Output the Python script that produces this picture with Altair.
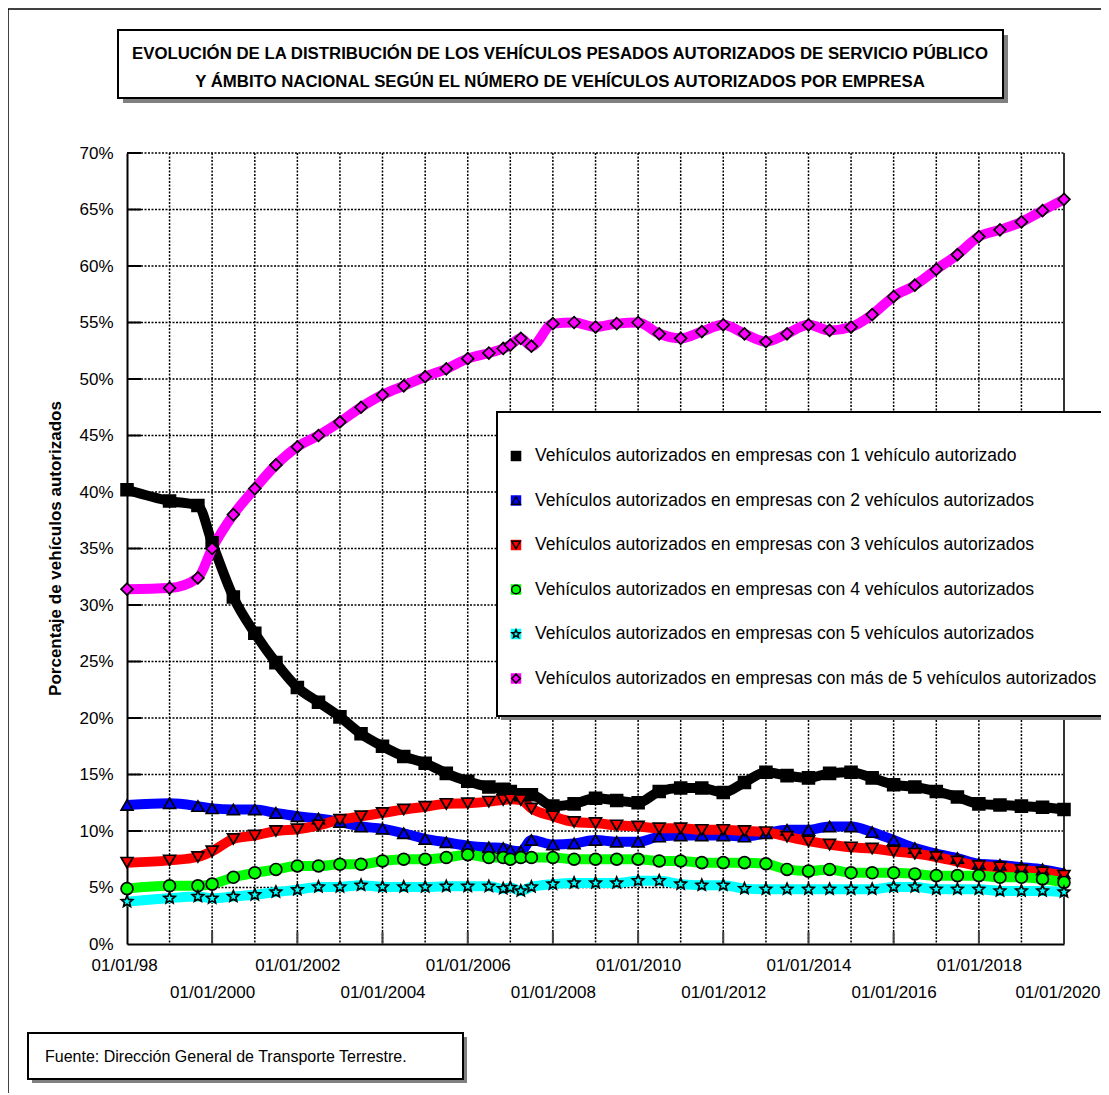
import altair as alt
import pandas as pd

FONT = "Liberation Sans"

# ---------------- data ----------------
FECHAS = [
    "1998-01-01", "1999-01-01", "1999-09-01", "2000-01-01", "2000-07-01",
    "2001-01-01", "2001-07-01", "2002-01-01", "2002-07-01", "2003-01-01",
    "2003-07-01", "2004-01-01", "2004-07-01", "2005-01-01", "2005-07-01",
    "2006-01-01", "2006-07-01", "2006-11-01", "2007-01-01", "2007-04-01",
    "2007-07-01", "2008-01-01", "2008-07-01", "2009-01-01", "2009-07-01",
    "2010-01-01", "2010-07-01", "2011-01-01", "2011-07-01", "2012-01-01",
    "2012-07-01", "2013-01-01", "2013-07-01", "2014-01-01", "2014-07-01",
    "2015-01-01", "2015-07-01", "2016-01-01", "2016-07-01", "2017-01-01",
    "2017-07-01", "2018-01-01", "2018-07-01", "2019-01-01", "2019-07-01",
    "2020-01-01",
]

SERIES = [
    "Vehículos autorizados en empresas con 1 vehículo autorizado",
    "Vehículos autorizados en empresas con 2 vehículos autorizados",
    "Vehículos autorizados en empresas con 3 vehículos autorizados",
    "Vehículos autorizados en empresas con 4 vehículos autorizados",
    "Vehículos autorizados en empresas con 5 vehículos autorizados",
    "Vehículos autorizados en empresas con más de 5 vehículos autorizados",
]

EMP_1 = [40.2, 39.2, 38.8, 35.5, 30.7, 27.5, 24.9, 22.7, 21.4, 20.1,
         18.6, 17.5, 16.6, 16.0, 15.1, 14.4, 13.9, 13.7, 13.5, 13.2,
         13.2, 12.2, 12.4, 12.9, 12.7, 12.5, 13.5, 13.8, 13.8, 13.4,
         14.3, 15.2, 14.9, 14.7, 15.1, 15.2, 14.7, 14.1, 13.9, 13.5,
         13.0, 12.4, 12.3, 12.2, 12.1, 11.9]
EMP_2 = [12.3, 12.45, 12.2, 12.0, 11.9, 11.9, 11.6, 11.3, 11.1, 10.8,
         10.4, 10.2, 9.8, 9.3, 9.0, 8.7, 8.55, 8.5, 8.3, 8.2,
         9.2, 8.8, 8.9, 9.2, 9.05, 9.05, 9.5, 9.6, 9.6, 9.6,
         9.5, 9.8, 10.1, 10.1, 10.4, 10.4, 9.9, 9.2, 8.5, 8.0,
         7.6, 7.1, 7.0, 6.8, 6.6, 6.25]
EMP_3 = [7.2, 7.4, 7.7, 8.2, 9.3, 9.6, 10.0, 10.15, 10.5, 11.0,
         11.3, 11.6, 11.9, 12.15, 12.4, 12.45, 12.6, 12.75, 12.8, 12.75,
         12.0, 11.3, 10.8, 10.7, 10.5, 10.4, 10.25, 10.25, 10.1, 10.1,
         10.0, 9.9, 9.5, 9.1, 8.8, 8.55, 8.45, 8.2, 8.0, 7.7,
         7.3, 6.9, 6.8, 6.55, 6.35, 6.05]
EMP_4 = [4.9, 5.15, 5.15, 5.3, 5.9, 6.3, 6.6, 6.9, 6.9, 7.05,
         7.05, 7.35, 7.5, 7.5, 7.65, 7.9, 7.65, 7.65, 7.5, 7.65,
         7.65, 7.65, 7.5, 7.5, 7.5, 7.5, 7.35, 7.35, 7.2, 7.2,
         7.2, 7.1, 6.6, 6.45, 6.6, 6.3, 6.3, 6.3, 6.2, 6.05,
         6.05, 6.05, 5.9, 5.9, 5.75, 5.45]
EMP_5 = [3.75, 4.05, 4.2, 4.05, 4.2, 4.35, 4.6, 4.8, 5.05, 5.05,
         5.2, 5.05, 5.05, 5.05, 5.1, 5.1, 5.1, 4.9, 5.0, 4.7,
         5.05, 5.3, 5.4, 5.4, 5.4, 5.6, 5.6, 5.3, 5.2, 5.2,
         4.9, 4.85, 4.85, 4.85, 4.85, 4.85, 4.85, 5.05, 5.05, 4.85,
         4.85, 4.85, 4.7, 4.7, 4.7, 4.6]
EMP_MAS5 = [31.4, 31.5, 32.4, 35.0, 38.0, 40.3, 42.4, 44.0, 45.0, 46.2,
            47.5, 48.6, 49.4, 50.2, 50.9, 51.8, 52.3, 52.7, 53.0, 53.6,
            52.9, 54.9, 55.0, 54.6, 54.9, 55.0, 54.0, 53.6, 54.2, 54.8,
            54.0, 53.3, 54.0, 54.8, 54.3, 54.6, 55.7, 57.3, 58.3, 59.7,
            61.0, 62.6, 63.2, 63.9, 64.9, 65.9]

COLORES = ["#000000", "#0000FF", "#FF0000", "#00FF00", "#00FFFF", "#FF00FF"]

GRID_FECHAS = [f"{a}-01-01" for a in range(1999, 2020)]
TICK_FECHAS = [f"{a}-01-01" for a in range(2000, 2020, 2)]
ETIQUETA_ANIOS = list(range(1998, 2021, 2))
Y_NIVELES = list(range(5, 75, 5))
Y_ETIQUETAS = list(range(0, 75, 5))

TITULO = [
    "EVOLUCIÓN DE LA DISTRIBUCIÓN DE LOS VEHÍCULOS PESADOS AUTORIZADOS DE SERVICIO PÚBLICO",
    "Y ÁMBITO NACIONAL SEGÚN EL NÚMERO DE VEHÍCULOS AUTORIZADOS POR EMPRESA",
]
Y_TITULO = "Porcentaje de vehículos autorizados"
FUENTE = "Fuente: Dirección General de Transporte Terrestre."

# ---------------- build tables ----------------
filas = []
for nombre, valores in zip(SERIES, [EMP_1, EMP_2, EMP_3, EMP_4, EMP_5, EMP_MAS5]):
    for f, v in zip(FECHAS, valores):
        filas.append({"fecha": f, "serie": nombre, "valor": v})
df = pd.DataFrame(filas)

grid_v = pd.DataFrame({"fecha": GRID_FECHAS})
tick_v = pd.DataFrame({"fecha": TICK_FECHAS})
grid_h = pd.DataFrame({"valor": Y_NIVELES})

W, H = 937, 791

STAR = ("M0,-1L0.265,-0.364L0.951,-0.309L0.428,0.139L0.588,0.809L0,0.45"
        "L-0.588,0.809L-0.428,0.139L-0.951,-0.309L-0.265,-0.364Z")
FORMAS = ["square", "triangle-up", "triangle-down", "circle", STAR, "diamond"]

x_scale = alt.Scale(
    type="utc",
    domain=[alt.DateTime(year=1998, month=1, date=1, utc=True),
            alt.DateTime(year=2020, month=1, date=1, utc=True)],
)
y_scale = alt.Scale(domain=[0, 70], nice=False)

x_axis = alt.Axis(
    values=[alt.DateTime(year=a, month=1, date=1, utc=True) for a in ETIQUETA_ANIOS],
    labelExpr=("utcyear(datum.value) == 1998 ? '01/01/98' : "
               "((utcyear(datum.value) - 1998) % 4 == 2 ? ['', '01/01/' + utcyear(datum.value)] "
               ": '01/01/' + utcyear(datum.value))"),
    labelLineHeight=27, labelFontSize=17, labelFont=FONT, labelColor="black",
    labelPadding=13, labelFlush=True, labelFlushOffset=36, labelOverlap=False,
    labelBaseline="top",
    ticks=False, tickSize=0, grid=False, domainColor="black", domainWidth=2,
    title=None,
)
y_axis = alt.Axis(
    values=Y_ETIQUETAS, labelExpr="datum.value + '%'",
    labelFontSize=17, labelFont=FONT, labelColor="black", labelPadding=14,
    ticks=False, tickSize=0, grid=False, domainColor="black", domainWidth=2,
    title=Y_TITULO, titleFont=FONT, titleFontSize=17, titleFontWeight="bold",
    titleColor="black", titleAngle=270, titleAlign="center", titleBaseline="middle",
    titleX=-72, titleY=395,
)

color_scale = alt.Scale(domain=SERIES, range=COLORES)
shape_scale = alt.Scale(domain=SERIES, range=FORMAS)

one = alt.Data(values=[{"k": 1}])

# gridlines and inward ticks
g_v = alt.Chart(grid_v).mark_rule(color="black", strokeWidth=1.5, strokeDash=[2, 1.5]).encode(
    x=alt.X("fecha:T", scale=x_scale, axis=x_axis),
    y=alt.value(0), y2=alt.value(H),
)
g_h = alt.Chart(grid_h).mark_rule(color="black", strokeWidth=1.5, strokeDash=[2, 1.5]).encode(
    y=alt.Y("valor:Q", scale=y_scale, axis=y_axis),
    x=alt.value(0), x2=alt.value(W),
)
t_y = alt.Chart(grid_h).mark_rule(color="black", strokeWidth=2).encode(
    y=alt.Y("valor:Q", scale=y_scale, axis=y_axis),
    x=alt.value(0), x2=alt.value(14),
)
t_x = alt.Chart(tick_v).mark_rule(color="#444444", strokeWidth=2).encode(
    x=alt.X("fecha:T", scale=x_scale, axis=x_axis),
    y=alt.value(H - 12), y2=alt.value(H),
)
borde_der = alt.Chart(one).mark_rule(color="#333333", strokeWidth=2).encode(
    x=alt.value(W), y=alt.value(0), y2=alt.value(H),
)

# series
lineas = alt.Chart(df).mark_line(strokeWidth=10, interpolate="monotone", strokeJoin="round").encode(
    x=alt.X("fecha:T", scale=x_scale, axis=x_axis),
    y=alt.Y("valor:Q", scale=y_scale, axis=y_axis),
    color=alt.Color("serie:N", scale=color_scale, legend=None),
    detail="serie:N",
)
puntos = alt.Chart(df).mark_point(filled=True, size=140, stroke="black", strokeWidth=1.7, opacity=1).encode(
    x=alt.X("fecha:T", scale=x_scale, axis=x_axis),
    y=alt.Y("valor:Q", scale=y_scale, axis=y_axis),
    color=alt.Color("serie:N", scale=color_scale, legend=None),
    shape=alt.Shape("serie:N", scale=shape_scale, legend=None),
)

# legend box (drawn from the series list)
leg_sombra = alt.Chart(one).mark_rect(color="#808080").encode(
    x=alt.value(374), x2=alt.value(1100), y=alt.value(263), y2=alt.value(567))
leg_caja = alt.Chart(one).mark_rect(fill="white", stroke="black", strokeWidth=2).encode(
    x=alt.value(370), x2=alt.value(1100), y=alt.value(259), y2=alt.value(563))

leg_capas = []
LEG_Y0, LEG_PASO = 303, 44.5
for i, nombre in enumerate(SERIES):
    d = pd.DataFrame({"serie": [nombre]})
    yy = LEG_Y0 + i * LEG_PASO
    base = alt.Chart(d)
    fondo = base.mark_point(filled=True, shape="square", size=110, opacity=1).encode(
        x=alt.value(389), y=alt.value(yy),
        color=alt.Color("serie:N", scale=color_scale, legend=None),
    )
    simbolo = base.mark_point(filled=False, size=75, stroke="black", strokeWidth=1.5, opacity=1).encode(
        x=alt.value(389), y=alt.value(yy),
        shape=alt.Shape("serie:N", scale=shape_scale, legend=None),
    )
    texto = base.mark_text(font=FONT, fontSize=17.5, color="black", align="left", baseline="middle").encode(
        x=alt.value(408), y=alt.value(yy), text="serie:N",
    )
    leg_capas += [fondo, simbolo, texto]

# title box
tit_sombra = alt.Chart(one).mark_rect(color="#808080").encode(
    x=alt.value(-4), x2=alt.value(881), y=alt.value(-118), y2=alt.value(-50))
tit_caja = alt.Chart(one).mark_rect(fill="white", stroke="black", strokeWidth=2).encode(
    x=alt.value(-9), x2=alt.value(876), y=alt.value(-123), y2=alt.value(-55))
tit_texto = alt.Chart(one).mark_text(
    font=FONT, fontSize=16.8, fontWeight="bold", color="black",
    align="center", baseline="middle", lineHeight=28,
).encode(x=alt.value(433), y=alt.value(-99), text=alt.value(TITULO))

# footer box
pie_sombra = alt.Chart(one).mark_rect(color="#808080").encode(
    x=alt.value(-95), x2=alt.value(340), y=alt.value(884), y2=alt.value(930))
pie_caja = alt.Chart(one).mark_rect(fill="white", stroke="black", strokeWidth=2).encode(
    x=alt.value(-99), x2=alt.value(336), y=alt.value(880), y2=alt.value(926))
pie_texto = alt.Chart(one).mark_text(
    font=FONT, fontSize=16, color="black", align="left", baseline="middle",
).encode(x=alt.value(-82), y=alt.value(904), text=alt.value(FUENTE))

# outer frame
marco_sup = alt.Chart(one).mark_rule(color="black", strokeWidth=1.5).encode(
    x=alt.value(-119), x2=alt.value(1000), y=alt.value(-144), y2=alt.value(-144))
marco_izq = alt.Chart(one).mark_rule(color="black", strokeWidth=1.5).encode(
    x=alt.value(-119), x2=alt.value(-119), y=alt.value(-144), y2=alt.value(1000))

chart = alt.layer(
    g_v, g_h, t_y, t_x, borde_der, lineas, puntos,
    leg_sombra, leg_caja, *leg_capas,
    tit_sombra, tit_caja, tit_texto,
    pie_sombra, pie_caja, pie_texto,
    marco_sup, marco_izq,
).properties(
    width=W, height=H,
    autosize=alt.AutoSizeParams(type="none"),
    padding={"left": 119, "top": 145, "right": 37, "bottom": 149},
    background="white",
).configure_view(stroke=None)

chart.save("out.html", embed_options={"renderer": "svg", "actions": False})
